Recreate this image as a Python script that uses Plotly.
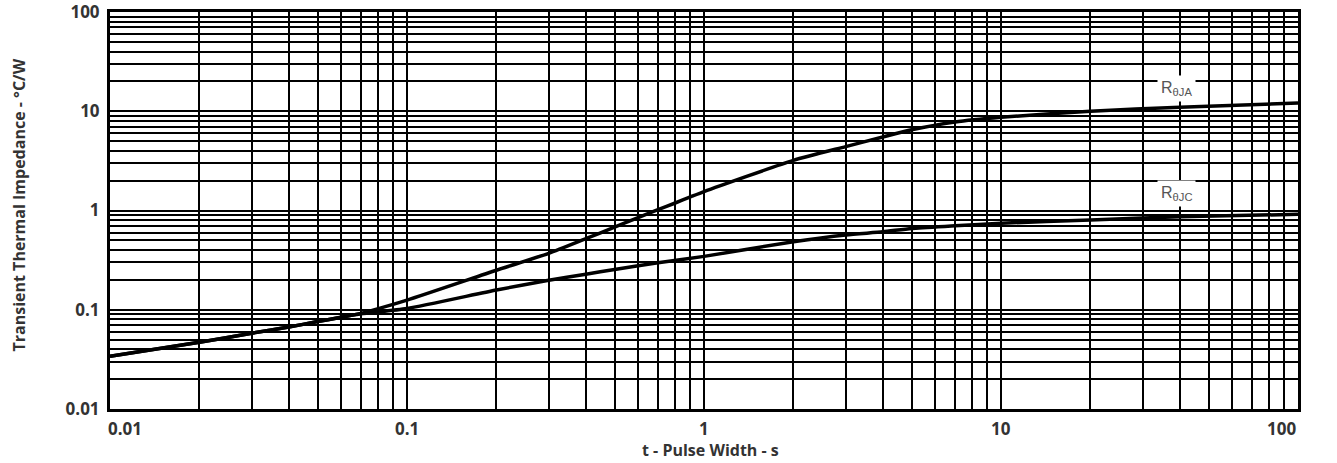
import math
import plotly.graph_objects as go

# ---- data ----
t_ja = [0.01, 0.02, 0.03, 0.04, 0.05, 0.06, 0.07, 0.1, 0.2, 0.3, 0.4, 0.5, 0.6, 0.7, 0.8, 0.9, 1,
        2, 3, 4, 5, 7, 10, 20, 40, 100]
z_ja = [0.034, 0.047, 0.058, 0.067, 0.076, 0.084, 0.092, 0.125, 0.25, 0.37, 0.52, 0.68, 0.85, 1.02,
        1.19, 1.37, 1.55, 3.2, 4.4, 5.5, 6.5, 7.8, 8.7, 10.0, 11.0, 12.1]

t_jc = [0.01, 0.02, 0.03, 0.04, 0.05, 0.06, 0.07, 0.1, 0.2, 0.3, 0.4, 0.5, 0.7, 1,
        2, 3, 4, 5, 7, 10, 20, 40, 100]
z_jc = [0.034, 0.047, 0.058, 0.067, 0.076, 0.084, 0.091, 0.103, 0.158, 0.198, 0.228, 0.255, 0.297, 0.345,
        0.485, 0.567, 0.61, 0.66, 0.70, 0.745, 0.80, 0.866, 0.915]

x_ticks = [0.01, 0.1, 1, 10, 100]
x_tick_labels = ["0.01", "0.1", "1", "10", "100"]
y_ticks = [0.01, 0.1, 1, 10, 100]
y_tick_labels = ["0.01", "0.1", "1", "10", "100"]
minor_vals = [m * 10 ** e for e in range(-2, 2) for m in range(2, 10)]

label_ja = ("R<sub>θJA</sub>", 39, 17.1)
label_jc = ("R<sub>θJC</sub>", 39, 1.47)

x_title = "t - Pulse Width - s"
y_title = "Transient Thermal Impedance - °C/W"

FONT = "Open Sans"
TXT = "#333333"

fig = go.Figure()
for tx, zy in ((t_ja, z_ja), (t_jc, z_jc)):
    fig.add_trace(go.Scatter(x=tx, y=zy, mode="lines",
                             line=dict(color="black", width=3.5, shape="spline", smoothing=0.6),
                             showlegend=False, hoverinfo="skip"))

axis_common = dict(
    type="log", automargin=False,
    showgrid=True, gridcolor="black", gridwidth=1.5,
    minor=dict(tickvals=minor_vals, showgrid=True, gridcolor="black", gridwidth=1.5, ticks=""),
    showline=True, linecolor="black", linewidth=3, mirror=True,
    zeroline=False,
)

fig.update_xaxes(range=[-2, 2], tickvals=x_ticks, showticklabels=False, **axis_common)
fig.update_yaxes(range=[-2, 2], tickvals=y_ticks, ticktext=y_tick_labels,
                 ticks="outside", ticklen=4, tickcolor="rgba(0,0,0,0)", ticklabeloverflow="allow",
                 tickfont=dict(family=FONT, size=17, color=TXT, weight="bold"), **axis_common)

annotations = []
for i, (v, s) in enumerate(zip(x_ticks, x_tick_labels)):
    anchor = "left" if i == 0 else ("right" if i == len(x_ticks) - 1 else "center")
    annotations.append(dict(x=math.log10(v), y=0, xref="x", yref="paper", text=s, showarrow=False,
                            xanchor=anchor, yanchor="top", yshift=-6, xshift=(-4 if i == 0 else 0),
                            font=dict(family=FONT, size=17, color=TXT, weight="bold")))
annotations.append(dict(x=0.5, y=0, xref="paper", yref="paper", text=x_title, showarrow=False,
                        xanchor="center", yanchor="top", yshift=-28, xshift=6,
                        font=dict(family=FONT, size=16, color=TXT, weight="bold")))
annotations.append(dict(x=0, y=0.5, xref="paper", yref="paper", text=y_title, showarrow=False,
                        textangle=-90, xanchor="center", yanchor="middle", xshift=-92, yshift=5,
                        font=dict(family=FONT, size=16, color=TXT, weight="bold")))
for txt, lx, ly in (label_ja, label_jc):
    annotations.append(dict(x=math.log10(lx), y=math.log10(ly), xref="x", yref="y", text=txt,
                            showarrow=False, xanchor="center", yanchor="middle",
                            bgcolor="white", borderpad=3,
                            font=dict(family="Liberation Sans", size=16, color="#555555")))

fig.update_layout(
    width=1337, height=463,
    margin=dict(l=110, r=39, t=12, b=54, autoexpand=False),
    paper_bgcolor="white", plot_bgcolor="white",
    annotations=annotations,
)

fig.write_html("out.html", config={"displayModeBar": False},
               post_script="document.body.style.margin='0';")
